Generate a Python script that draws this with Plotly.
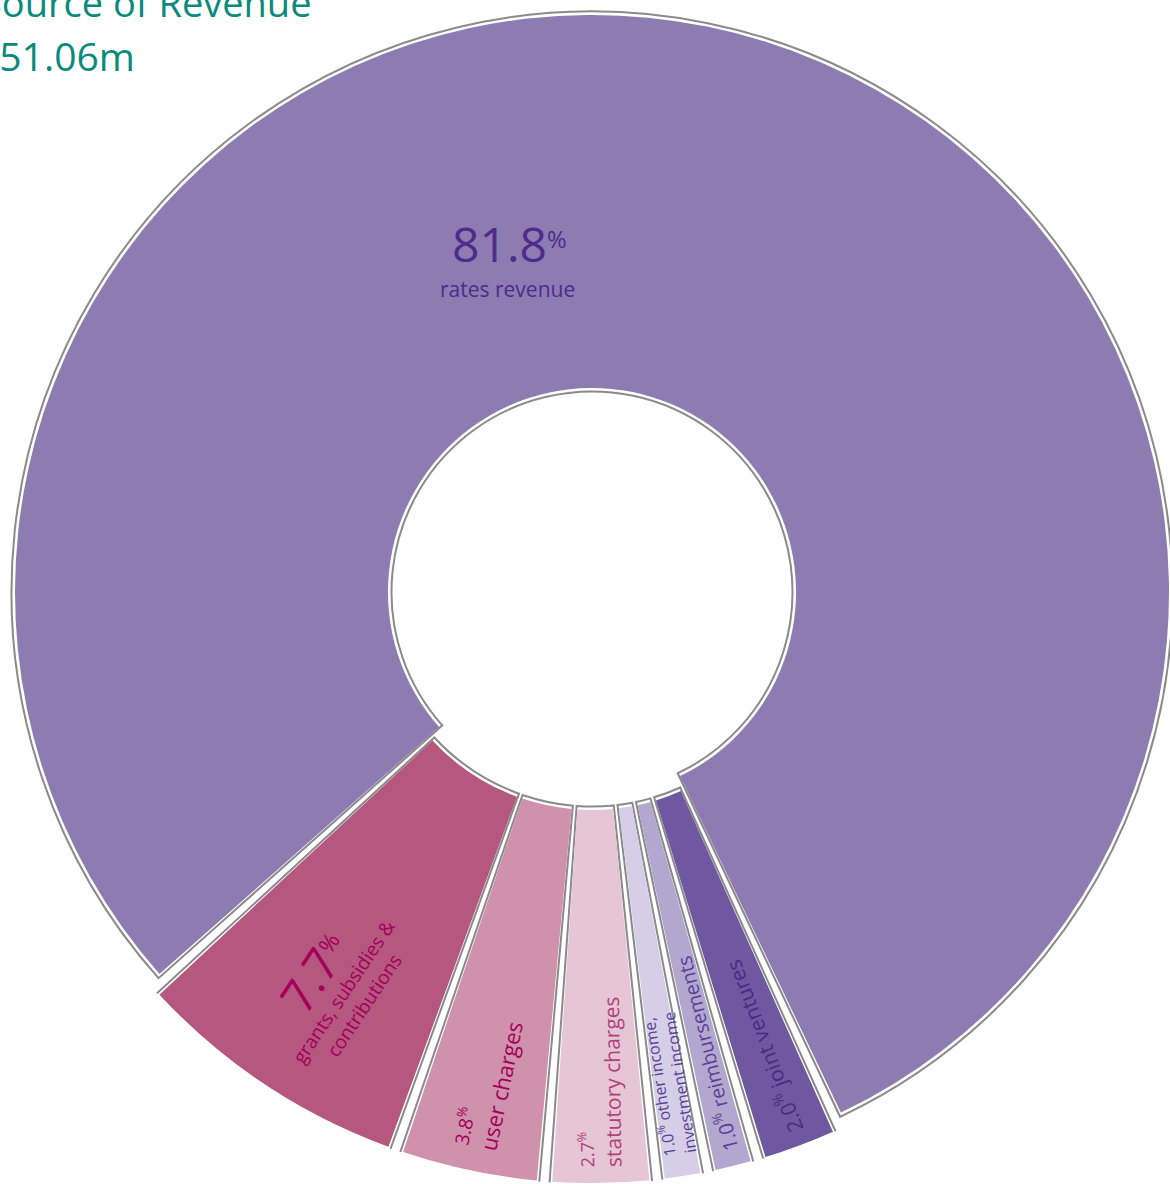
import math
import plotly.graph_objects as go

# ---- data -------------------------------------------------------------
categories = [
    "rates revenue",
    "joint ventures",
    "reimbursements",
    "other income, investment income",
    "statutory charges",
    "user charges",
    "grants, subsidies & contributions",
]
shares = [81.8, 2.0, 1.0, 1.0, 2.7, 3.8, 7.7]
title_text = "Source of Revenue"
total_text = "$51.06m"

# ---- styling ------------------------------------------------------------
fill_colors = ["#8d7bb2", "#6f589f", "#b1a7cf", "#d4cfe6", "#e6c6d4", "#cf91ab", "#b5577f"]
text_colors = ["#4e2c8c", "#4a2a86", "#5b3f98", "#5b3f98", "#b2407c", "#a3005a", "#a3005a"]
outline_color = "#8a8a8a"
title_color = "#0a8a7c"
FONT = "Open Sans"

W, H = 1184, 1184          # figure size (px)
CX, CY = 592, 592          # centre of the ring (px)
R_AXIS = 592               # radial axis span, 1 unit = 1 px
FIRST_CENTRE = 11.5        # angle (clockwise from 12 o'clock) of the first slice's middle
GAP = 1.5                  # angular gap between neighbouring slices (deg)
EDGE = 0.5                 # extra angular width of the outline ring (deg)
INNER, OUTER = 204, 577    # fill radii of an un-pulled slice
RING = 3.5                 # distance between the fill and its outline
pull_px = [0, 14, 14, 14, 14, 14, 14]

# angular layout: every slice keeps the same degrees-per-percent
n = len(shares)
deg_per_pct = (360 - n * GAP) / sum(shares)
widths = [s * deg_per_pct for s in shares]
centres = []
a = FIRST_CENTRE - widths[0] / 2
for w in widths:
    centres.append(a + w / 2)
    a += w + GAP

fill_base = [INNER + p for p in pull_px]
fill_len = [OUTER - INNER] * n
ring_base = [INNER - RING + p for p in pull_px]
ring_len = [OUTER - INNER + 2 * RING] * n

fig = go.Figure()

# outline ring drawn first, slightly larger than the coloured slice
fig.add_trace(go.Barpolar(
    theta=centres, width=[w + EDGE for w in widths],
    base=ring_base, r=ring_len,
    marker=dict(color="white", line=dict(color=outline_color, width=2)),
    hoverinfo="skip", showlegend=False,
))
# coloured slices
fig.add_trace(go.Barpolar(
    theta=centres, width=widths,
    base=fill_base, r=fill_len,
    marker=dict(color=fill_colors, line=dict(width=0)),
    customdata=list(zip(categories, shares)),
    hovertemplate="%{customdata[0]}: %{customdata[1]:.1f}%<extra></extra>",
    showlegend=False,
))


def to_paper(theta_deg, radius):
    t = math.radians(theta_deg)
    xs = CX + radius * math.sin(t)
    ys = CY - radius * math.cos(t)
    return xs / W, 1 - ys / H


def pct(v):
    return f"{v:.1f}<sup>%</sup>"


annotations = []

# headline label for the largest slice
annotations.append(dict(
    x=509 / W, y=1 - 243 / H, xref="paper", yref="paper",
    xanchor="center", yanchor="middle", showarrow=False,
    text=f"{shares[0]:.1f}<span style='font-size:34px'><sup>%</sup></span>",
    font=dict(family=FONT, size=48, color=text_colors[0]),
))
annotations.append(dict(
    x=507 / W, y=1 - 289 / H, xref="paper", yref="paper",
    xanchor="center", yanchor="middle", showarrow=False,
    text=categories[0],
    font=dict(family=FONT, size=21, color=text_colors[0]),
))

# radial labels for the small slices
small_labels = {
    1: dict(text=f"{pct(shares[1])} joint ventures", size=21, r=486, align="left"),
    2: dict(text=f"{pct(shares[2])} reimbursements", size=20, r=476, align="left"),
    3: dict(text=f"{pct(shares[3])} other income,<br>investment income", size=16, r=498, align="left"),
    4: dict(text=f"<span style='font-size:18px'>{pct(shares[4])}</span><br>statutory charges", size=21, r=490, align="left"),
    5: dict(text=f"<span style='font-size:19px'>{pct(shares[5])}</span><br>user charges", size=22, r=502, align="left"),
    6: dict(text=(f"<span style='font-size:46px'>{shares[6]:.1f}</span>"
                  f"<span style='font-size:32px'><sup>%</sup></span>"
                  f"<br>grants, subsidies &<br>contributions"), size=19, r=470, align="center"),
}
for i, spec in small_labels.items():
    px, py = to_paper(centres[i], spec["r"])
    annotations.append(dict(
        x=px, y=py, xref="paper", yref="paper",
        xanchor="center", yanchor="middle", showarrow=False,
        text=spec["text"], align=spec["align"], textangle=centres[i] - 270,
        font=dict(family=FONT, size=spec["size"], color=text_colors[i]),
    ))

# title block in the top-left corner
annotations.append(dict(
    x=314 / W, y=1 - 2 / H, xref="paper", yref="paper",
    xanchor="right", yanchor="middle", showarrow=False,
    text=title_text, font=dict(family=FONT, size=38, color=title_color),
))
annotations.append(dict(
    x=137 / W, y=1 - 55 / H, xref="paper", yref="paper",
    xanchor="right", yanchor="middle", showarrow=False,
    text=total_text, font=dict(family=FONT, size=39, color=title_color),
))

fig.update_layout(
    width=W, height=H,
    margin=dict(l=0, r=0, t=0, b=0),
    paper_bgcolor="white", plot_bgcolor="white",
    polar=dict(
        domain=dict(x=[0, 2 * R_AXIS / W], y=[1 - 2 * R_AXIS / H, 1]),
        bgcolor="white",
        barmode="overlay",
        radialaxis=dict(range=[0, R_AXIS], visible=False, showgrid=False),
        angularaxis=dict(visible=False, rotation=90, direction="clockwise",
                         thetaunit="degrees", showgrid=False),
    ),
    annotations=annotations,
    showlegend=False,
)

fig.write_html(
    "out.html",
    config={"displayModeBar": False},
    post_script="document.documentElement.style.overflow='hidden';document.body.style.overflow='hidden';",
)
